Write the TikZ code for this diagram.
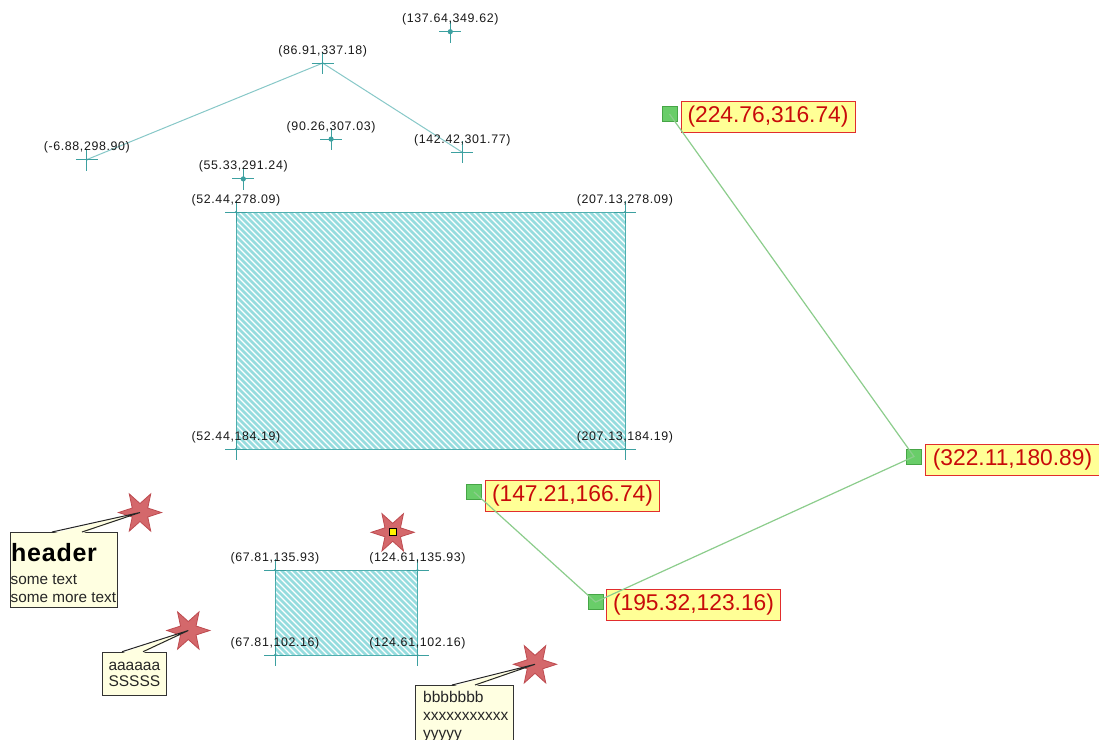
\documentclass[tikz,border=0pt]{standalone}
\usepackage{fontspec}
\setmainfont{Liberation Sans}
\newfontfamily\lblfont[LetterSpace=5]{Liberation Sans}
\newfontfamily\hdrfont[LetterSpace=3]{Liberation Sans}
\usetikzlibrary{shapes.geometric}
\definecolor{teal1}{RGB}{60,160,160}
\definecolor{polyc}{RGB}{135,200,200}
\definecolor{hatchc}{RGB}{150,220,222}
\definecolor{rectb}{RGB}{80,175,175}
\definecolor{gline}{RGB}{140,205,140}
\definecolor{gfill}{RGB}{105,205,105}
\definecolor{gdraw}{RGB}{70,165,70}
\definecolor{lblfill}{RGB}{255,255,150}
\definecolor{lbldraw}{RGB}{225,45,45}
\definecolor{lbltext}{RGB}{200,10,10}
\definecolor{notefill}{RGB}{255,255,225}
\definecolor{starfill}{RGB}{208,88,92}
\definecolor{stardraw}{RGB}{190,75,80}
\tikzset{
  crossmk/.pic={\draw[teal1, line width=0.9] (-11,0)--(11,0) (0,-11)--(0,11); \fill[teal1] (0,0) circle (1.1);},
  pointmk/.pic={\draw[teal1, line width=0.9] (-11,0)--(11,0) (0,-11)--(0,11); \fill[teal1] (0,0) circle (2.6);},
  coordlbl/.style={font=\lblfont\fontsize{12.4}{14}\selectfont, text=black!90, anchor=base, inner sep=0},
  gsq/.style={draw=gdraw, fill=gfill, minimum size=15, inner sep=0, line width=0.8},
  redlbl/.style={draw=lbldraw, fill=lblfill, text=lbltext, font=\fontsize{22.8}{26}\selectfont, minimum width=174, minimum height=31, inner sep=0, anchor=west, line width=1},
  starmk/.style={star, star points=6, star point ratio=2.4, minimum size=43, inner sep=0, shape border rotate=30, fill=starfill, draw=stardraw, fill opacity=0.9, line width=0.8},
  notebox/.style={draw=black!80, fill=notefill, anchor=north west, inner sep=0, line width=0.9},
  notetxt/.style={font=\fontsize{15.5}{18}\selectfont, anchor=base west, inner sep=0, text=black!85},
  wedgefill/.style={fill=notefill},
  wedgeline/.style={draw=black!85, line width=1}
}
\begin{document}
\begin{tikzpicture}[x=1pt,y=-1pt]
\useasboundingbox (0,0) rectangle (1099,739);
\fill[white] (0,0) rectangle (1099,739);

% ---------- hatched rectangles ----------
\coordinate (R1a) at (236,212);
\coordinate (R1b) at (625,449);
\coordinate (R2a) at (275,570);
\coordinate (R2b) at (417.5,655);
\begin{scope}
  \clip (R1a) rectangle (R1b);
  \fill[hatchc] (R1a) rectangle (R1b);
  \foreach \i in {-246,-240,...,396} \draw[white, line width=1.4] (236+\i,209) -- (236+\i+243,452);
\end{scope}
\draw[rectb, line width=1] (R1a) rectangle (R1b);
\begin{scope}
  \clip (R2a) rectangle (R2b);
  \fill[hatchc] (R2a) rectangle (R2b);
  \foreach \i in {-96,-90,...,150} \draw[white, line width=1.4] (275+\i,567) -- (275+\i+91,658);
\end{scope}
\draw[rectb, line width=1] (R2a) rectangle (R2b);

% ---------- points ----------
\coordinate (pA) at (86.8,159.6);
\coordinate (pB) at (322.7,63.1);
\coordinate (pC) at (462.3,152.3);
\coordinate (q1) at (450.3,31.7);
\coordinate (q2) at (331.1,139.1);
\coordinate (q3) at (243.3,178.9);
\coordinate (c1) at (236,212);
\coordinate (c2) at (625,212);
\coordinate (c3) at (236,449);
\coordinate (c4) at (625,449);
\coordinate (c5) at (275,570);
\coordinate (c6) at (417.5,570);
\coordinate (c7) at (275,655);
\coordinate (c8) at (417.5,655);

\draw[polyc, line width=1] (pA) -- (pB) -- (pC);

\foreach \p in {pA,pB,pC,c1,c2,c3,c4,c5,c6,c7,c8} \pic at (\p) {crossmk};
\foreach \p in {q1,q2,q3} \pic at (\p) {pointmk};

\node[coordlbl] (lA) at (86.8,150.6) {(-6.88,298.90)};
\node[coordlbl] (lB) at (322.7,54.1) {(86.91,337.18)};
\node[coordlbl] (lC) at (462.3,143.3) {(142.42,301.77)};
\node[coordlbl] (l1) at (450.3,22.7) {(137.64,349.62)};
\node[coordlbl] (l2) at (331.1,130.1) {(90.26,307.03)};
\node[coordlbl] (l3) at (243.3,169.9) {(55.33,291.24)};
\node[coordlbl] (lc1) at (236,203) {(52.44,278.09)};
\node[coordlbl] (lc2) at (625,203) {(207.13,278.09)};
\node[coordlbl] (lc3) at (236,440) {(52.44,184.19)};
\node[coordlbl] (lc4) at (625,440) {(207.13,184.19)};
\node[coordlbl] (lc5) at (275,561) {(67.81,135.93)};
\node[coordlbl] (lc6) at (417.5,561) {(124.61,135.93)};
\node[coordlbl] (lc7) at (275,646) {(67.81,102.16)};
\node[coordlbl] (lc8) at (417.5,646) {(124.61,102.16)};

% ---------- green path ----------
\node[gsq] (g1) at (669.5,114) {};
\node[gsq] (g2) at (914,456.5) {};
\node[gsq] (g3) at (474,492) {};
\node[gsq] (g4) at (595.5,602) {};
\node[redlbl] (r1) at (680.5,117) {(224.76,316.74)};
\node[redlbl] (r2) at (925,459.5) {(322.11,180.89)};
\node[redlbl] (r3) at (485,496) {(147.21,166.74)};
\node[redlbl] (r4) at (606,604.5) {(195.32,123.16)};
\draw[gline, line width=1.2] (g1.center) -- (g2.center) -- (g4.center) -- (g3.center);

% ---------- stars ----------
\node[starmk] (s1) at (140,512.5) {};
\node[starmk] (s2) at (188.3,630.5) {};
\node[starmk] (s3) at (392.7,532.3) {};
\node[starmk] (s4) at (535,664.3) {};
\node[draw=black, fill=yellow, minimum size=7, inner sep=0, line width=0.8] (ym) at (s3.center) {};

% ---------- callouts ----------
\node[notebox, minimum width=107, minimum height=74.5] (n1) at (10,532) {};
\fill[wedgefill] (52,533.5) -- (s1.center) -- (82,533.5) -- cycle;
\draw[wedgeline] (52,532) -- (s1.center) -- (82,532);
\node[font=\hdrfont\bfseries\fontsize{25}{28}\selectfont, anchor=base west, inner sep=0] (h1) at (11,561.7) {header};
\node[notetxt, font=\fontsize{15.3}{18}\selectfont] (t1) at (10.5,584.3) {some text};
\node[notetxt, font=\fontsize{15.3}{18}\selectfont] (t2) at (10.5,602.7) {some more text};

\node[notebox, minimum width=63.7, minimum height=43.3] (n2) at (102.3,651.7) {};
\fill[wedgefill] (122,653.2) -- (s2.center) -- (143,653.2) -- cycle;
\draw[wedgeline] (122,651.7) -- (s2.center) -- (143,651.7);
\node[notetxt] (t3) at (108.3,670) {aaaaaa};
\node[notetxt] (t4) at (108.3,686) {SSSSS};

\node[notebox, minimum width=97.7, minimum height=70] (n3) at (415,685) {};
\fill[wedgefill] (452,686.5) -- (s4.center) -- (475,686.5) -- cycle;
\draw[wedgeline] (452,685) -- (s4.center) -- (475,685);
\node[notetxt] (t5) at (423,702.3) {bbbbbbb};
\node[notetxt] (t6) at (423,720) {xxxxxxxxxxx};
\node[notetxt] (t7) at (423,738) {yyyyy};
\end{tikzpicture}
\end{document}
